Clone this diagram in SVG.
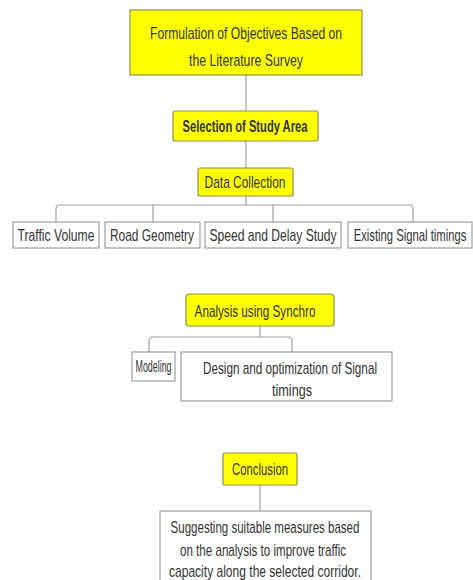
<svg xmlns="http://www.w3.org/2000/svg" width="473" height="580" viewBox="0 0 473 580">
<style>
.y{fill:#ffff00;stroke:#8f8f5a;stroke-width:1.2}
.w{fill:#ffffff;stroke:#a0a0a0;stroke-width:1.2}
.c{fill:none;stroke:#a0a0a0;stroke-width:1.2}
text{font-family:"Liberation Sans",Arial,sans-serif;font-size:16px;fill:#333333;text-anchor:middle}
.b{font-weight:bold}
</style>
<rect width="473" height="580" fill="#ffffff"/>
<g id="connectors">
<path class="c" d="M246 75V111"/>
<path class="c" d="M246 141V168"/>
<path class="c" d="M246 196V205"/>
<path class="c" d="M56 222V209Q56 205 60 205H409Q413 205 413 209V222"/>
<path class="c" d="M153 205V222"/>
<path class="c" d="M273 205V222"/>
<path class="c" d="M260 326V337"/>
<path class="c" d="M149 352V341Q149 337 153 337H288Q292 337 292 341V352"/>
<path class="c" d="M260 485V511"/>
</g>
<g id="n-objectives">
<rect class="y" x="130" y="10" width="232" height="65"/>
<text transform="translate(246 39) scale(0.8 1)" textLength="240" lengthAdjust="spacingAndGlyphs">Formulation of Objectives Based on</text>
<text transform="translate(246 66) scale(0.8 1)" textLength="142.5" lengthAdjust="spacingAndGlyphs">the Literature Survey</text>
</g>
<g id="n-study-area">
<rect class="y" x="173" y="111" width="145" height="30" rx="2"/>
<text class="b" transform="translate(245 132) scale(0.8 1)" textLength="156" lengthAdjust="spacingAndGlyphs">Selection of Study Area</text>
</g>
<g id="n-data">
<rect class="y" x="198" y="168" width="95" height="28" rx="2"/>
<text transform="translate(245 188) scale(0.8 1)" textLength="101" lengthAdjust="spacingAndGlyphs">Data Collection</text>
</g>
<g id="n-traffic">
<rect class="w" x="13" y="222" width="86" height="26"/>
<text transform="translate(56 241) scale(0.8 1)" textLength="96" lengthAdjust="spacingAndGlyphs">Traffic Volume</text>
</g>
<g id="n-road">
<rect class="w" x="105" y="222" width="95" height="26"/>
<text transform="translate(152 241) scale(0.8 1)" textLength="105" lengthAdjust="spacingAndGlyphs">Road Geometry</text>
</g>
<g id="n-speed">
<rect class="w" x="205" y="222" width="136" height="26"/>
<text transform="translate(273 241) scale(0.8 1)" textLength="159" lengthAdjust="spacingAndGlyphs">Speed and Delay Study</text>
</g>
<g id="n-signal">
<rect class="w" x="348" y="222" width="124" height="26"/>
<text transform="translate(410 241) scale(0.7 1)" textLength="161" lengthAdjust="spacingAndGlyphs">Existing Signal timings</text>
</g>
<g id="n-synchro">
<rect class="y" x="186" y="294" width="148" height="32" rx="3"/>
<text transform="translate(255 317) scale(0.8 1)" textLength="151" lengthAdjust="spacingAndGlyphs">Analysis using Synchro</text>
</g>
<g id="n-modeling">
<rect class="w" x="132" y="352" width="43" height="29"/>
<text transform="translate(153.5 372) scale(0.8 1)" textLength="45" lengthAdjust="spacingAndGlyphs">Modeling</text>
</g>
<g id="n-design">
<rect class="w" x="181" y="352" width="211" height="49"/>
<text transform="translate(290 374) scale(0.8 1)" textLength="217.5" lengthAdjust="spacingAndGlyphs">Design and optimization of Signal</text>
<text transform="translate(292 396) scale(0.8 1)" textLength="50" lengthAdjust="spacingAndGlyphs">timings</text>
</g>
<g id="n-conclusion">
<rect class="y" x="223" y="453" width="74" height="32" rx="2"/>
<text transform="translate(260 475) scale(0.8 1)" textLength="70" lengthAdjust="spacingAndGlyphs">Conclusion</text>
</g>
<g id="n-suggest">
<rect class="w" x="160" y="511" width="211" height="75"/>
<text transform="translate(265 533) scale(0.8 1)" textLength="236" lengthAdjust="spacingAndGlyphs">Suggesting suitable measures based</text>
<text transform="translate(263 556) scale(0.8 1)" textLength="207.5" lengthAdjust="spacingAndGlyphs">on the analysis to improve traffic</text>
<text transform="translate(265 577) scale(0.8 1)" textLength="240" lengthAdjust="spacingAndGlyphs">capacity along the selected corridor.</text>
</g>
</svg>
